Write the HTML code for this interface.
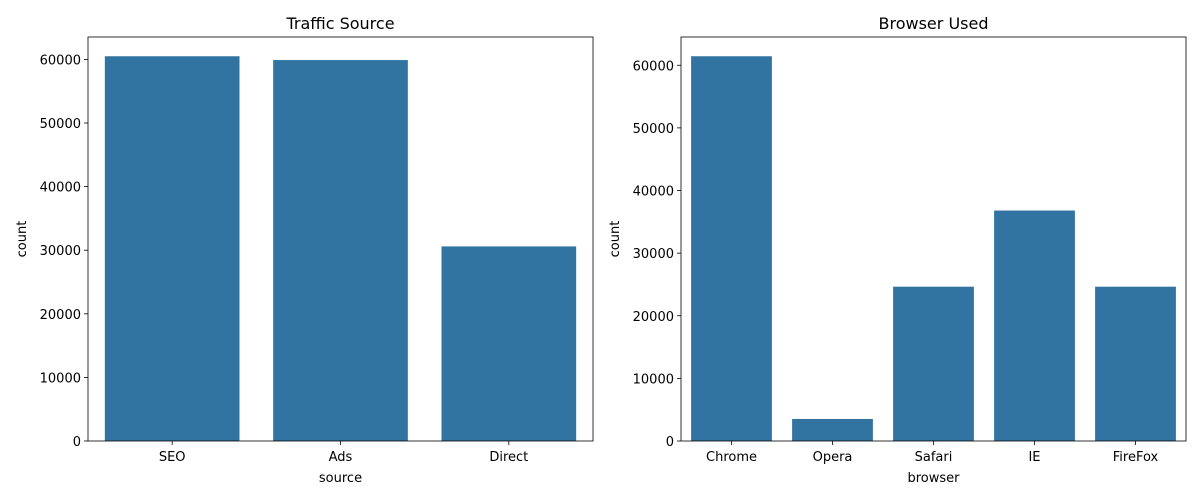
<!DOCTYPE html>
<html><head><meta charset="utf-8"><style>
html,body{margin:0;padding:0;background:#fff;}
svg{display:block;font-family:"DejaVu Sans","Liberation Sans",sans-serif;}
</style></head><body>
<svg id="chart" width="1200" height="500"></svg>
<script>
const leftCategories = ["SEO","Ads","Direct"];
const leftValues = [60500, 59900, 30600];
const leftTicks = [0,10000,20000,30000,40000,50000,60000];
const rightCategories = ["Chrome","Opera","Safari","IE","FireFox"];
const rightValues = [61440, 3520, 24640, 36800, 24640];
const rightTicks = [0,10000,20000,30000,40000,50000,60000];

const NS = "http://www.w3.org/2000/svg";
const svg = document.getElementById("chart");
function mk(tag, attrs, parent){
  const e = document.createElementNS(NS, tag);
  for (const k in attrs) e.setAttribute(k, attrs[k]);
  (parent||svg).appendChild(e);
  return e;
}
function panel(name, x0, x1, y0, y1, cats, vals, ticks, title, xlabel){
  const g = mk("g", {});
  
  
  const ymax = Math.max(...vals) * 1.05;
  const yS = v => y1 - v / ymax * (y1 - y0);
  const band = (x1 - x0) / cats.length;
  const xS = i => x0 + band * i + band / 2;
  cats.forEach((c, i) => {
    const bw = band * 0.8;
    const r = mk("rect", {x: xS(i) - bw/2, y: yS(vals[i]), width: bw, height: y1 - yS(vals[i]), fill: "#3274a1"}, g);
    
    
    mk("line", {x1: xS(i), x2: xS(i), y1: y1, y2: y1 + 4, stroke: "#000", "stroke-width": 0.8}, g);
    const t = mk("text", {x: xS(i), y: y1 + 20, "font-size": 13, "text-anchor": "middle"}, g);
    t.textContent = c;
    
    
  });
  ticks.forEach(v => {
    mk("line", {x1: x0 - 4, x2: x0, y1: yS(v), y2: yS(v), stroke: "#000", "stroke-width": 0.8}, g);
    const t = mk("text", {x: x0 - 7, y: yS(v) + 5, "font-size": 13, "text-anchor": "end"}, g);
    t.textContent = v;
    
    
  });
  const frame = mk("rect", {x: x0, y: y0, width: x1 - x0, height: y1 - y0, fill: "none", stroke: "#000", "stroke-width": 0.8}, g);
  
  
  const tt = mk("text", {x: (x0 + x1)/2, y: y0 - 8, "font-size": 16, "text-anchor": "middle"}, g);
  tt.textContent = title;
  
  
  const xl = mk("text", {x: (x0 + x1)/2, y: y1 + 41, "font-size": 13, "text-anchor": "middle"}, g);
  xl.textContent = xlabel;
  
  
  const yl = mk("text", {x: 0, y: 0, "font-size": 13, "text-anchor": "middle", transform: `translate(${x0 - 62},${(y0 + y1)/2}) rotate(-90)`}, g);
  yl.textContent = "count";
  
  
}
panel("traffic-source", 88, 593, 37, 441, leftCategories, leftValues, leftTicks, "Traffic Source", "source");
panel("browser-used", 681, 1186, 37, 441, rightCategories, rightValues, rightTicks, "Browser Used", "browser");
</script>
</body></html>
